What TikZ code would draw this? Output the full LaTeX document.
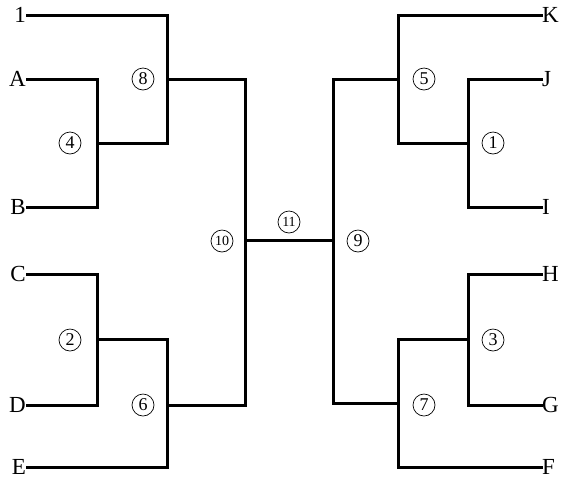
\documentclass[tikz,border=0pt]{standalone}
\usepackage{fontspec}
\setmainfont{Liberation Serif}
\begin{document}
\begin{tikzpicture}[x=1pt,y=-1pt,
  br/.style={line width=3pt,line cap=rect},
  lab/.style={font=\fontsize{23}{26}\selectfont,inner sep=1pt},
  circ/.style={circle,draw,line width=0.7pt,minimum size=22pt,inner sep=0pt,font=\fontsize{18}{18}\selectfont},
  circtwo/.style={circ,font=\fontsize{14}{14}\selectfont}]
\useasboundingbox (0,0) rectangle (570,483);
% left labels
\node[lab,anchor=east] (n1) at (27,15) {1};
\node[lab,anchor=east] (nA) at (27,79) {A};
\node[lab,anchor=east] (nB) at (27,207) {B};
\node[lab,anchor=east] (nC) at (27,274) {C};
\node[lab,anchor=east] (nD) at (27,405) {D};
\node[lab,anchor=east] (nE) at (27,467) {E};
% right labels
\node[lab,anchor=west] (nK) at (541,15) {K};
\node[lab,anchor=west] (nJ) at (541,79) {J};
\node[lab,anchor=west] (nI) at (541,207) {I};
\node[lab,anchor=west] (nH) at (541,274) {H};
\node[lab,anchor=west] (nG) at (541,405) {G};
\node[lab,anchor=west] (nF) at (541,467) {F};
% junction coordinates
\coordinate (m4) at (97,143);
\coordinate (m8) at (167,79);
\coordinate (m2) at (97,339);
\coordinate (m6) at (167,405);
\coordinate (m10) at (245,240);
\coordinate (m9) at (333,240);
\coordinate (m5) at (398,79);
\coordinate (m1) at (468,143);
\coordinate (m3) at (468,339);
\coordinate (m7) at (398,403);
% left brackets
\draw[br] (nA.east) -| (m4) |- (nB.east);
\draw[br] (n1.east) -| (m8) |- (m4);
\draw[br] (nC.east) -| (m2) |- (nD.east);
\draw[br] (m2) -| (m6) |- (nE.east);
\draw[br] (m8) -| (m10) |- (m6);
\draw[br] (m10) -- (m9);
% right brackets
\draw[br] (nJ.west) -| (m1) |- (nI.west);
\draw[br] (nK.west) -| (m5) |- (m1);
\draw[br] (nH.west) -| (m3) |- (nG.west);
\draw[br] (m3) -| (m7) |- (nF.west);
\draw[br] (m5) -| (m9) |- (m7);
% circled numbers
\node[circ] (c4) at (70,143) {4};
\node[circ] (c8) at (143,79) {8};
\node[circ] (c2) at (70,340) {2};
\node[circ] (c6) at (143,405) {6};
\node[circtwo] (c10) at (222,241) {10};
\node[circtwo] (c11) at (289,222) {11};
\node[circ] (c9) at (358,241) {9};
\node[circ] (c5) at (424,79) {5};
\node[circ] (c1) at (493,143) {1};
\node[circ] (c3) at (493,340) {3};
\node[circ] (c7) at (424,405) {7};
\end{tikzpicture}
\end{document}
